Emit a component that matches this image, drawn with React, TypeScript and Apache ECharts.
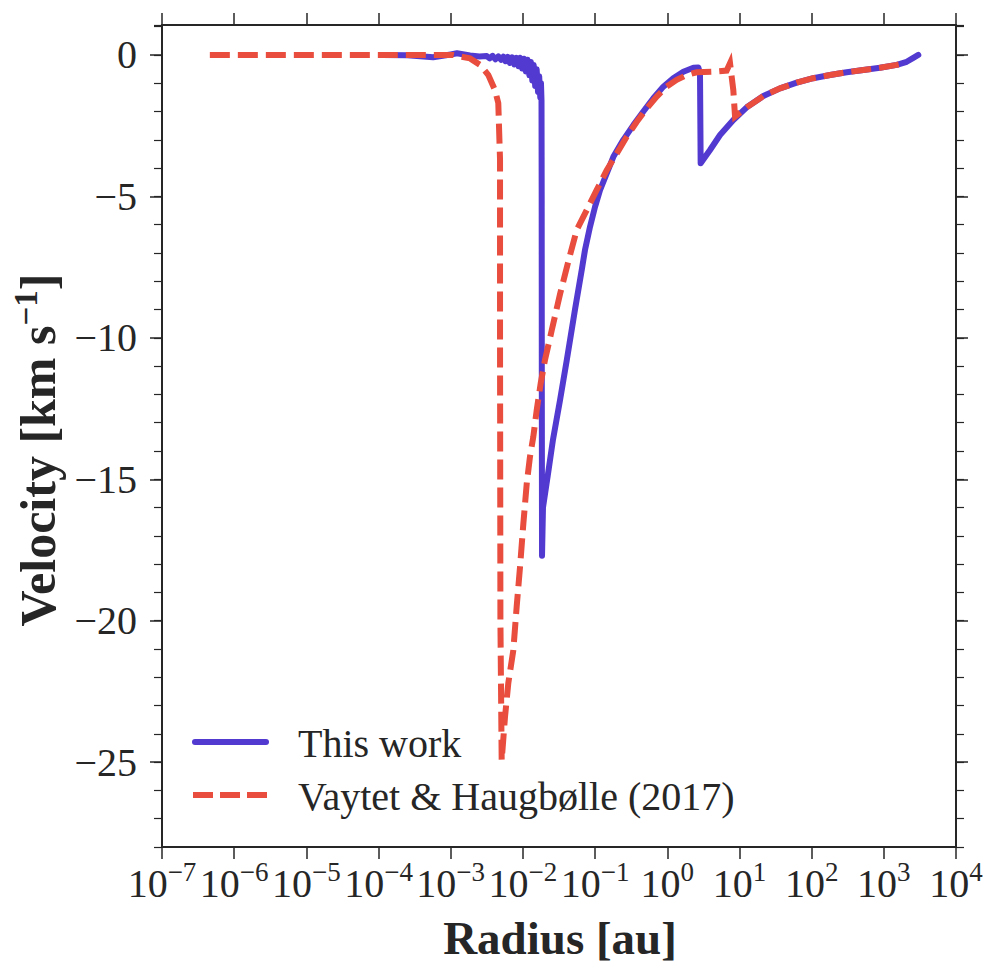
import React, { useEffect, useRef } from "react";
import * as echarts from "echarts";

// This work: radius [au], velocity [km/s]
const thisWorkRadius = [
  1.11e-4, 2.5e-4, 5.7e-4, 1.0e-3, 1.22e-3, 1.85e-3, 2.5e-3,
  3.16e-3, 3.47e-3, 3.8e-3, 4.17e-3, 4.57e-3, 5.0e-3, 5.37e-3, 5.75e-3, 6.17e-3, 6.6e-3,
  7.08e-3, 7.6e-3, 8.13e-3, 8.7e-3, 9.1e-3, 9.77e-3, 1.035e-2, 1.096e-2, 1.16e-2, 1.23e-2,
  1.29e-2, 1.35e-2, 1.41e-2, 1.48e-2, 1.55e-2, 1.62e-2, 1.68e-2, 1.74e-2, 1.78e-2, 1.81e-2,
  1.82e-2, 1.828e-2, 1.84e-2,
  1.897e-2, 2.23e-2, 2.61e-2, 3.27e-2, 4.05e-2, 5.27e-2, 6.53e-2, 7.24e-2, 8.51e-2, 9.98e-2,
  0.117, 0.145, 0.179, 0.246, 0.339, 0.466, 0.641, 0.881, 1.21, 1.67, 2.3, 2.69,
  2.84, 2.9, 3.91, 5.38, 8.22, 12.6, 21.4, 36.5, 62.1, 105, 180, 306, 520, 885, 1510, 2075, 2564, 3006,
];
const thisWorkVelocity = [
  0, -0.01, -0.08, 0.02, 0.06, -0.02, -0.05,
  -0.04, -0.12, -0.03, -0.15, -0.05, -0.17, -0.06, -0.22, -0.07, -0.28,
  -0.08, -0.33, -0.1, -0.4, -0.1, -0.48, -0.13, -0.58, -0.17, -0.72,
  -0.25, -0.9, -0.35, -1.1, -0.5, -1.3, -0.75, -1.5, -1.0, -1.6,
  -5, -12, -17.7,
  -16.0, -14.8, -13.6, -12.2, -10.79, -9.0, -7.6, -6.9, -6.07, -5.37,
  -4.78, -4.19, -3.6, -3.0, -2.48, -2.0, -1.53, -1.12, -0.82, -0.59, -0.45, -0.44,
  -0.64, -3.83, -3.36, -2.83, -2.3, -1.85, -1.45, -1.18, -0.98, -0.82, -0.71, -0.61, -0.53, -0.45, -0.35, -0.24, -0.1, 0.0,
];

// Vaytet & Haugbølle (2017)
const vaytetRadius = [
  4.6e-7, 3.16e-4, 1.08e-3, 1.85e-3, 2.55e-3, 3.32e-3, 4.1e-3, 4.56e-3, 4.74e-3, 4.82e-3,
  4.82e-3, 4.88e-3, 5.08e-3, 5.65e-3, 6.28e-3, 7.36e-3, 8.2e-3, 9.12e-3, 1.014e-2, 1.13e-2,
  1.253e-2, 1.393e-2, 1.552e-2, 1.766e-2, 2.02e-2, 2.51e-2, 3.01e-2, 3.27e-2, 4.26e-2, 5.56e-2,
  7.66e-2, 0.105, 0.145, 0.2, 0.274, 0.378, 0.519, 0.714, 0.982, 1.35, 1.86, 2.56,
  4.35, 6.65, 7.4, 8.22, 8.69, 12.6, 21.4, 36.5, 62.1, 105, 180, 306, 520, 885, 1510, 1968,
];
const vaytetVelocity = [
  0, 0, 0, -0.12, -0.35, -0.71, -1.24, -1.7, -3.1, -3.7,
  -10, -20, -24.94, -23.4, -22.2, -21.05, -19.5, -18.1, -16.57, -15.15,
  -14.2, -13.5, -12.56, -11.6, -10.79, -9.73, -8.85, -8.45, -7.3, -6.19,
  -5.48, -4.78, -4.07, -3.48, -2.89, -2.36, -1.89, -1.47, -1.12, -0.88, -0.71, -0.61,
  -0.59, -0.55, -0.29, -1.24, -2.18, -1.85, -1.45, -1.18, -0.98, -0.82, -0.71, -0.61, -0.53, -0.45, -0.35, -0.29,
];

const yMajorTicks = [0, -5, -10, -15, -20, -25];
const seriesNames = ["This work", "Vaytet & Haugbølle (2017)"];
const xAxisTitle = "Radius [au]";

const FONT = "'Liberation Serif', 'DejaVu Serif', serif";
const INK = "#262626";
const BLUE = "#5239D0";
const RED = "#E84D3D";

const fmtMinus = (n: number) => (n < 0 ? "\u2212" + Math.abs(n) : String(n));

export default function App() {
  const ref = useRef<HTMLDivElement>(null);
  useEffect(() => {
    if (!ref.current) return;
    const chart = echarts.init(ref.current, undefined, { renderer: "svg" });
    const yMin = -28;
    const yMax = 1.06;
    const baseY = {
      type: "value",
      min: yMin,
      max: yMax,
      splitLine: { show: false },
      axisLine: { show: true, onZero: false, lineStyle: { color: INK, width: 2 } },
    };
    const blueData = thisWorkRadius.map((r, i) => [r, thisWorkVelocity[i]]);
    const redData = vaytetRadius.map((r, i) => [r, vaytetVelocity[i]]);
    const xLabelFmt = (v: number) => {
      const e = Math.round(Math.log10(v));
      return `{b|10}{s|${fmtMinus(e)}}`;
    };
    const baseX = {
      type: "log",
      logBase: 10,
      min: 1e-7,
      max: 1e4,
      interval: 1,
      splitNumber: 11,
      splitLine: { show: false },
      minorTick: { show: false },
      axisLine: { show: true, onZero: false, lineStyle: { color: INK, width: 2 } },
      axisTick: { show: true, length: 12, lineStyle: { color: INK, width: 1.5 } },
    };
    chart.setOption({
      animation: false,
      backgroundColor: "#ffffff",
      grid: { left: 162, top: 25, width: 794, height: 822, containLabel: false },
      xAxis: [
        {
          ...baseX,
          position: "bottom",
          axisLabel: {
            show: true,
            margin: 16,
            formatter: xLabelFmt,
            rich: {
              b: { fontSize: 40, fontFamily: FONT, color: INK, verticalAlign: "bottom", lineHeight: 40 },
              s: { fontSize: 27, fontFamily: FONT, color: INK, verticalAlign: "bottom", lineHeight: 27, padding: [0, 0, 18, 0] },
            },
          },
        },
        { ...baseX, position: "top", axisLabel: { show: false } },
      ],
      yAxis: [
        {
          ...baseY,
          position: "left",
          axisTick: { show: true, length: 12, customValues: yMajorTicks, lineStyle: { color: INK, width: 1.5 } },
          axisLabel: {
            show: true,
            customValues: yMajorTicks,
            margin: 25,
            fontSize: 40,
            fontFamily: FONT,
            color: INK,
            formatter: (v: number) => fmtMinus(Math.round(v)),
          },
        },
        {
          ...baseY,
          position: "left",
          interval: 1,
          axisLine: { show: false, onZero: false },
          axisTick: { show: true, length: 8, lineStyle: { color: INK, width: 1.2 } },
          axisLabel: { show: false },
        },
        {
          ...baseY,
          position: "right",
          axisTick: { show: true, length: 12, customValues: yMajorTicks, lineStyle: { color: INK, width: 1.5 } },
          axisLabel: { show: false, customValues: yMajorTicks },
        },
        {
          ...baseY,
          position: "right",
          interval: 1,
          axisLine: { show: false, onZero: false },
          axisTick: { show: true, length: 8, lineStyle: { color: INK, width: 1.2 } },
          axisLabel: { show: false },
        },
      ],
      series: [
        {
          name: seriesNames[0],
          type: "line",
          xAxisIndex: 0,
          yAxisIndex: 0,
          data: blueData,
          showSymbol: false,
          symbol: "none",
          z: 2,
          lineStyle: { color: BLUE, width: 6, cap: "round", join: "round" },
        },
        {
          name: seriesNames[1],
          type: "line",
          xAxisIndex: 0,
          yAxisIndex: 0,
          data: redData,
          showSymbol: false,
          symbol: "none",
          z: 3,
          lineStyle: { color: RED, width: 6, type: [20, 8], cap: "butt", join: "miter" },
        },
      ],
      graphic: [
        {
          type: "text",
          x: 560,
          y: 938,
          style: {
            text: xAxisTitle,
            font: `bold 47px ${FONT}`,
            fill: INK,
            align: "center",
            verticalAlign: "middle",
          },
        },
        {
          type: "text",
          x: 38,
          y: 450,
          rotation: Math.PI / 2,
          style: {
            text: "{t|Velocity [km s}{s|\u22121}{t|]}",
            fill: INK,
            align: "center",
            verticalAlign: "middle",
            rich: {
              t: { font: `bold 50px ${FONT}`, fill: INK, verticalAlign: "bottom", lineHeight: 50 },
              s: { font: `bold 33px ${FONT}`, fill: INK, verticalAlign: "bottom", lineHeight: 33, padding: [0, 0, 21, 0] },
            },
          },
        },
        {
          type: "line",
          shape: { x1: 195, y1: 742, x2: 266, y2: 742 },
          style: { stroke: BLUE, lineWidth: 6, lineCap: "round" },
        },
        {
          type: "text",
          x: 298,
          y: 743,
          style: { text: seriesNames[0], font: `40px ${FONT}`, fill: INK, align: "left", verticalAlign: "middle" },
        },
        {
          type: "line",
          shape: { x1: 193, y1: 795, x2: 267, y2: 795 },
          style: { stroke: RED, lineWidth: 6, lineDash: [20, 7], lineCap: "butt" },
        },
        {
          type: "text",
          x: 298,
          y: 796,
          style: { text: seriesNames[1], font: `40px ${FONT}`, fill: INK, align: "left", verticalAlign: "middle" },
        },
      ],
    });
    return () => chart.dispose();
  }, []);
  return (
    <div
      ref={ref}
      style={{ position: "absolute", left: 0, top: 0, width: 996, height: 975, background: "#fff" }}
    />
  );
}
